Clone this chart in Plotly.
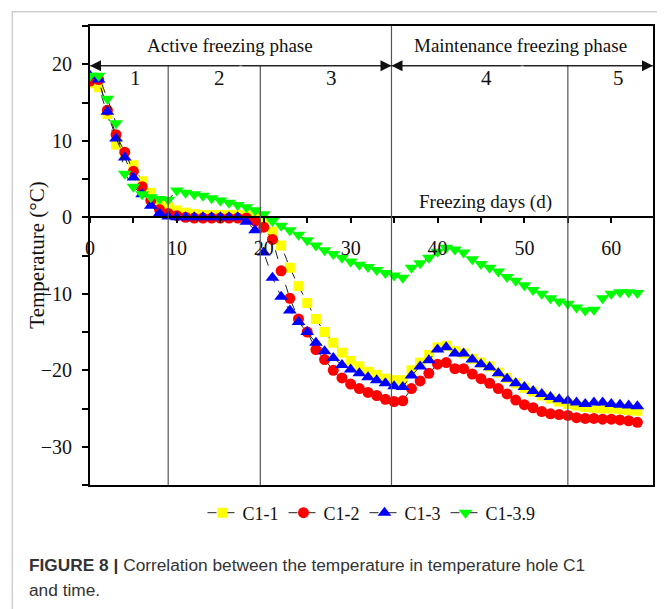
import plotly.graph_objects as go

# ---------------- data ----------------
days = list(range(0, 64))

c1_1 = [17.5, 17.0, 13.5, 9.5, 8.2, 6.8, 4.7, 3.2, 2.0, 1.3,
        0.9, 0.6, 0.4, 0.3, 0.3, 0.3, 0.3, 0.3, 0.2, 0.0,
        -0.6, -1.9, -3.7, -6.6, -9.0, -11.2, -13.3, -15.0, -16.4, -17.7,
        -18.8, -19.5, -20.2, -20.6, -21.1, -21.3, -21.3, -20.0, -19.0, -18.0,
        -17.0, -16.8, -17.5, -17.8, -18.5, -19.0, -19.5, -20.3, -21.0, -21.7,
        -22.3, -22.8, -23.3, -23.7, -24.1, -24.4, -24.6, -24.8, -24.9, -25.0,
        -25.0, -25.1, -25.2, -25.3]

c1_2 = [17.8, 18.0, 14.0, 10.8, 8.5, 6.0, 4.0, 2.2, 1.0, 0.5,
        0.2, 0.0, -0.1, -0.1, -0.1, -0.1, -0.1, -0.1, -0.1, -0.5,
        -1.3, -2.9, -7.0, -10.6, -13.3, -15.0, -17.3, -18.6, -20.0, -21.0,
        -21.8, -22.4, -22.9, -23.3, -23.8, -24.1, -24.0, -22.4, -21.4, -20.4,
        -19.2, -19.0, -19.8, -19.8, -20.5, -21.1, -21.7, -22.4, -23.1, -23.9,
        -24.5, -24.9, -25.4, -25.7, -25.8, -25.9, -26.2, -26.3, -26.3, -26.4,
        -26.4, -26.5, -26.6, -26.8]

c1_3 = [18.5, 18.0, 13.8, 10.3, 7.8, 5.2, 3.0, 1.5, 0.5, 0.1,
        0.0, 0.0, 0.0, 0.0, 0.0, 0.0, 0.0, 0.0, -0.6, -1.7,
        -4.6, -7.9, -10.4, -12.2, -13.7, -15.0, -16.4, -17.5, -18.4, -19.3,
        -19.9, -20.4, -20.9, -21.3, -21.7, -22.1, -22.2, -20.7, -19.5, -18.7,
        -17.3, -17.0, -17.8, -17.8, -18.6, -19.2, -19.6, -20.4, -21.1, -21.7,
        -22.2, -22.7, -23.1, -23.5, -23.8, -24.0, -24.2, -24.4, -24.2, -24.2,
        -24.4, -24.5, -24.6, -24.7]

c1_39 = [18.5, 18.5, 15.5, 12.3, 5.7, 4.0, 3.0, 2.6, 2.4, 2.3,
         3.5, 3.2, 3.0, 2.8, 2.5, 2.2, 1.9, 1.6, 1.3, 0.9,
         0.4, -0.5, -1.1, -1.7, -2.3, -3.0, -3.7, -4.3, -4.8, -5.3,
         -5.8, -6.2, -6.5, -6.9, -7.3, -7.6, -7.9, -6.6, -6.0, -5.3,
         -4.5, -4.0, -4.2, -4.6, -5.5, -6.1, -6.6, -7.1, -7.8, -8.3,
         -8.9, -9.5, -10.0, -10.6, -11.0, -11.3, -11.8, -12.2, -12.1, -10.6,
         -10.0, -9.8, -9.8, -9.9]

series_names = ["C1-1", "C1-2", "C1-3", "C1-3.9"]
x_range = [0, 64.8]
y_range = [-35, 25]

phase_bounds = [9, 19.6, 34.7, 55]           # stage boundaries (days)
stage_labels = ["1", "2", "3", "4", "5"]
stage_centers = [5.2, 14.9, 27.8, 45.6, 60.8]
phase_names = ["Active freezing phase", "Maintenance freezing phase"]
phase_centers = [16.1, 49.5]
arrow_level = 19.8

# ---------------- figure ----------------
SERIF = "Liberation Serif, Times New Roman, serif"
fig = go.Figure()

styles = [
    dict(symbol="square", color="#FFFF00", size=10),
    dict(symbol="circle", color="#FF0000", size=11),
    dict(symbol="triangle-up", color="#0000FF", size=12),
    dict(symbol="triangle-down", color="#00FF00", size=12),
]
for name, ys, st in zip(series_names, [c1_1, c1_2, c1_3, c1_39], styles):
    fig.add_trace(go.Scatter(
        x=days, y=ys, name=name, mode="lines+markers",
        line=dict(color="#222222", width=1, dash="dash"),
        marker=dict(symbol=st["symbol"], color=st["color"], size=st["size"],
                    line=dict(width=0)),
    ))

# invisible trace so that the zero-crossing x axis (x2) gets drawn
fig.add_trace(go.Scatter(x=[None], y=[None], xaxis="x2", yaxis="y",
                         showlegend=False, hoverinfo="skip"))

# phase boundary lines
shapes = []
for i, b in enumerate(phase_bounds):
    top = y_range[1] if i == 2 else arrow_level
    shapes.append(dict(type="line", xref="x", yref="y", x0=b, x1=b,
                       y0=y_range[0], y1=top,
                       line=dict(color="#555555", width=1.2)))
# arrow baseline
shapes.append(dict(type="line", xref="x", yref="y", x0=x_range[0], x1=x_range[1],
                   y0=arrow_level, y1=arrow_level,
                   line=dict(color="#222222", width=1)))
# outer light frame
shapes.append(dict(type="rect", xref="paper", yref="paper",
                   x0=-0.138, x1=1.06, y0=-0.32, y1=1.031,
                   line=dict(color="#cfcfcf", width=1.5), layer="below"))

annotations = []
# arrowheads
mid1 = phase_bounds[2] / 2
mid2 = (phase_bounds[2] + x_range[1]) / 2
for tip, tail in [(x_range[0], mid1), (phase_bounds[2], mid1),
                  (phase_bounds[2], mid2), (x_range[1], mid2)]:
    annotations.append(dict(x=tip, y=arrow_level, ax=tail, ay=arrow_level,
                            xref="x", yref="y", axref="x", ayref="y",
                            showarrow=True, arrowhead=2, arrowsize=2.2,
                            arrowwidth=1, arrowcolor="#111111", text=""))
for txt, cx in zip(phase_names, phase_centers):
    annotations.append(dict(x=cx, y=22.4, xref="x", yref="y", text=txt,
                            showarrow=False,
                            font=dict(family=SERIF, size=19, color="#111")))
for txt, cx in zip(stage_labels, stage_centers):
    annotations.append(dict(x=cx, y=18.2, xref="x", yref="y", text=txt,
                            showarrow=False,
                            font=dict(family=SERIF, size=21, color="#111")))
annotations.append(dict(x=45.5, y=2.0, xref="x", yref="y", text="Freezing days (d)",
                        showarrow=False, font=dict(family=SERIF, size=19, color="#111")))
annotations.append(dict(x=-0.0956, y=0.5, xref="paper", yref="paper",
                        xanchor="center", yanchor="middle",
                        text="Temperature (°C)", textangle=-90, showarrow=False,
                        font=dict(family=SERIF, size=21, color="#111")))
# caption
CAP = "Liberation Sans, Arial, sans-serif"
annotations.append(dict(x=-0.112, y=-0.174, xref="paper", yref="paper", xanchor="left",
                        yanchor="middle", showarrow=False,
                        text="<b>FIGURE 8 |</b> Correlation between the temperature in temperature hole C1",
                        font=dict(family=CAP, size=17.3, color="#333")))
annotations.append(dict(x=-0.112, y=-0.229, xref="paper", yref="paper", xanchor="left",
                        yanchor="middle", showarrow=False, text="and time.",
                        font=dict(family=CAP, size=17.3, color="#333")))

fig.update_layout(
    width=657, height=601,
    margin=dict(l=82, r=10, t=18, b=124),
    paper_bgcolor="white", plot_bgcolor="white",
    shapes=shapes, annotations=annotations,
    showlegend=True,
    legend=dict(orientation="h", x=0.5, xanchor="center", y=-0.061, yanchor="middle",
                font=dict(family=SERIF, size=18, color="#111"),
                itemwidth=30, bgcolor="rgba(0,0,0,0)"),
    xaxis=dict(range=x_range, showline=True, mirror=True, linewidth=2,
               linecolor="black", showticklabels=False, ticks="", showgrid=False,
               zeroline=False),
    xaxis2=dict(range=x_range, overlaying="x", anchor="free", position=35 / 60,
                side="bottom", showline=True, linewidth=2, linecolor="black",
                ticks="outside", ticklen=5, tickwidth=1.5, tickcolor="black",
                dtick=10, tick0=0, showgrid=False, zeroline=False,
                minor=dict(dtick=5, ticks="outside", ticklen=5, tickwidth=1.5,
                           tickcolor="black", showgrid=False),
                ticklabelstandoff=8,
                tickfont=dict(family=SERIF, size=20, color="#111")),
    yaxis=dict(range=y_range, showline=True, mirror=True, linewidth=2,
               linecolor="black", ticks="outside", ticklen=6, tickwidth=1.5,
               tickcolor="black", dtick=10, tick0=0, showgrid=False, zeroline=False,
               minor=dict(dtick=5, ticks="outside", ticklen=6, tickwidth=1.5,
                          tickcolor="black", showgrid=False),
               ticklabelstandoff=6,
               tickfont=dict(family=SERIF, size=20, color="#111")),
)

fig.write_html("out.html")
